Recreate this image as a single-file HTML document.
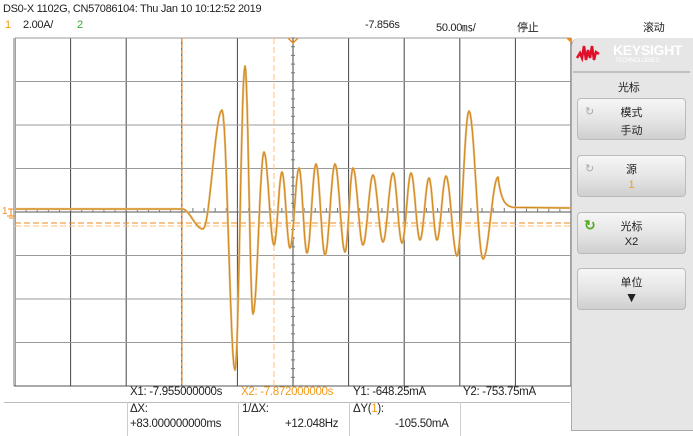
<!DOCTYPE html>
<html><head><meta charset="utf-8"><style>
body{margin:0;width:693px;height:436px;background:#fff;overflow:hidden;position:relative;font-family:"Liberation Sans","Noto Sans CJK SC",sans-serif;}
.t{position:absolute;font-size:11px;color:#222;white-space:nowrap;letter-spacing:-0.3px;}
.o{color:#f29a1c}
.g{color:#3a3}
.btn{position:absolute;left:577px;width:107px;height:40px;border:1px solid #bbb;border-radius:4px;background:linear-gradient(#f6f6f6,#e4e4e4 55%,#cfcfcf);}
.btn div{position:absolute;width:100%;text-align:center;font-size:11px;color:#222;}
</style></head><body>
<div class="t" style="left:3px;top:3px;font-size:11px;">DS0-X 1102G, CN57086104: Thu Jan 10 10:12:52 2019</div>
<div class="t o" style="left:5px;top:19px;">1</div>
<div class="t" style="left:23px;top:19px;">2.00A/</div>
<div class="t g" style="left:77px;top:19px;">2</div>
<div class="t" style="left:365px;top:19px;">-7.856s</div>
<div class="t" style="left:436px;top:19px;">50.00㎳/</div>
<div class="t" style="left:517px;top:19px;">停止</div>
<div class="t" style="left:643px;top:19px;">滚动</div>

<svg style="position:absolute;left:0;top:0" width="693" height="436">
<g id="grid" stroke="#444" stroke-width="1"></g>
<line x1="14" y1="38" x2="14" y2="386" stroke="#bbb" stroke-width="2"/>
<line x1="14" y1="386" x2="571" y2="386" stroke="#555"/>
<line x1="182" y1="38" x2="182" y2="386" stroke="#e8862a" stroke-width="1" stroke-dasharray="4,2"/>
<line x1="274" y1="38" x2="274" y2="386" stroke="#ffc070" stroke-width="1" stroke-dasharray="6,3"/>
<line x1="15" y1="223" x2="571" y2="223" stroke="#f08a1c" stroke-width="1" stroke-dasharray="6,3"/>
<line x1="15" y1="226" x2="571" y2="226" stroke="#ffc070" stroke-width="1" stroke-dasharray="6,3"/>
<path d="M288 38 L293 43 L298 38" fill="none" stroke="#f08a1c" stroke-width="1.5"/>
<path d="M566 38 L571 38 L571 43 Z" fill="#f08a1c"/>
<text x="2" y="214" font-size="10" fill="#f08a1c" font-family="Liberation Sans">1</text>
<path d="M8 209 L14 209 M11 209 L11 216 M7 216 L15 216 M9 218 L13 218" stroke="#f08a1c" fill="none"/>
<path id="wave2" fill="none" stroke="#e8bc80" stroke-width="2.2" stroke-linejoin="round"/>
<path id="wave" fill="none" stroke="#d08818" stroke-width="1" stroke-linejoin="round"/>
</svg>

<div style="position:absolute;left:571px;top:38px;width:122px;height:392px;background:#e6e6e6;border-left:1px solid #aaa;border-top-left-radius:8px;border-bottom:1px solid #aaa;"></div>
<svg style="position:absolute;left:0;top:0" width="693" height="436">
<path d="M577 58 l3 -5 l2 5 l2 -12 l2 14 l2 -10 l2 8 l2 -12 l2 14 l2 -8 l3 2" fill="none" stroke="#e0102a" stroke-width="2.5"/>
<line x1="573" y1="72" x2="690" y2="72" stroke="#999"/>
</svg>
<div class="t" style="left:613px;top:42px;font-size:14px;color:#fff;font-weight:bold;">KEYSIGHT</div>
<div class="t" style="left:615px;top:58px;font-size:6px;color:#fff;">TECHNOLOGIES</div>
<div class="t" style="left:618px;top:79px;">光标</div>
<div class="btn" style="top:98px"><div style="top:5px">模式</div><div style="top:23px">手动</div><span style="position:absolute;left:7px;top:6px;font-size:11px;color:#aaa">↻</span></div>
<div class="btn" style="top:155px"><div style="top:5px">源</div><div style="top:23px;color:#f29a1c">1</div><span style="position:absolute;left:7px;top:6px;font-size:11px;color:#aaa">↻</span></div>
<div class="btn" style="top:212px"><div style="top:5px">光标</div><div style="top:23px">X2</div><span style="position:absolute;left:6px;top:4px;font-size:14px;color:#5a2;font-weight:bold">↻</span></div>
<div class="btn" style="top:268px"><div style="top:5px">单位</div><div style="top:20px;font-size:14px">▼</div></div>

<div class="t" style="left:130px;top:386px;font-size:11.5px">X1: -7.955000000s</div>
<div class="t o" style="left:241px;top:386px;font-size:11.5px">X2: -7.872000000s</div>
<div class="t" style="left:353px;top:386px;font-size:11.5px">Y1: -648.25mA</div>
<div class="t" style="left:463px;top:386px;font-size:11.5px">Y2: -753.75mA</div>
<div style="position:absolute;left:4px;top:402px;width:566px;height:1px;background:#bbb"></div>
<div style="position:absolute;left:127px;top:402px;width:1px;height:34px;background:#ccc"></div>
<div style="position:absolute;left:238px;top:402px;width:1px;height:34px;background:#ccc"></div>
<div style="position:absolute;left:349px;top:402px;width:1px;height:34px;background:#ccc"></div>
<div style="position:absolute;left:460px;top:402px;width:1px;height:34px;background:#ccc"></div>
<div class="t" style="left:130px;top:403px;font-size:11.5px">ΔX:</div>
<div class="t" style="left:130px;top:418px;font-size:11.5px">+83.000000000ms</div>
<div class="t" style="left:242px;top:403px;font-size:11.5px">1/ΔX:</div>
<div class="t" style="left:285px;top:418px;font-size:11.5px">+12.048Hz</div>
<div class="t" style="left:353px;top:403px;font-size:11.5px">ΔY(<span class="o">1</span>):</div>
<div class="t" style="left:395px;top:418px;font-size:11.5px">-105.50mA</div>

<script>
var g=document.getElementById('grid'),s='';
for(var i=0;i<=10;i++){var x=15+i*55.6;s+='<line x1="'+x+'" y1="38" x2="'+x+'" y2="386"/>';}
for(var j=0;j<=8;j++){var y=38+j*43.5;s+='<line x1="15" y1="'+y+'" x2="571" y2="'+y+'" stroke="'+(j==4?'#555':'#999')+'"/>';}
for(var k=0;k<50;k++){var x=15+k*11.12;s+='<line x1="'+x+'" y1="208" x2="'+x+'" y2="212" stroke="#777"/>';}
for(var k=0;k<40;k++){var y=38+k*8.7;s+='<line x1="291" y1="'+y+'" x2="295" y2="'+y+'" stroke="#777"/>';}
g.innerHTML=s;
var pts=[[15,209],[182,209],[203,229],[222,110],[235,370],[245,66],[253,314],[264,152],[274,245],[282,172],[290,248],[299,168],[307,253],[316,164],[325,255],[335,164],[345,252],[353,168],[363,245],[373,175],[383,242],[393,173],[402,243],[411,173],[420,240],[429,178],[437,240],[446,176],[457,256],[469,111],[483,259],[498,177]];
var d='M15 209 L182 209';
for(var p=2;p<pts.length;p++){var a=pts[p-1],b=pts[p];for(var t=1;t<=12;t++){var u=t/12,x=a[0]+(b[0]-a[0])*u,y=a[1]+(b[1]-a[1])*(1-Math.cos(Math.PI*u))/2;d+=' L'+x.toFixed(1)+' '+y.toFixed(1);}}
for(var t=1;t<=16;t++){var x=498+t;d+=' L'+x+' '+(208-31*Math.exp(-t/4)).toFixed(1);}
d+=' L571 208';
document.getElementById('wave').setAttribute('d',d);
document.getElementById('wave2').setAttribute('d',d);
</script>
</body></html>
